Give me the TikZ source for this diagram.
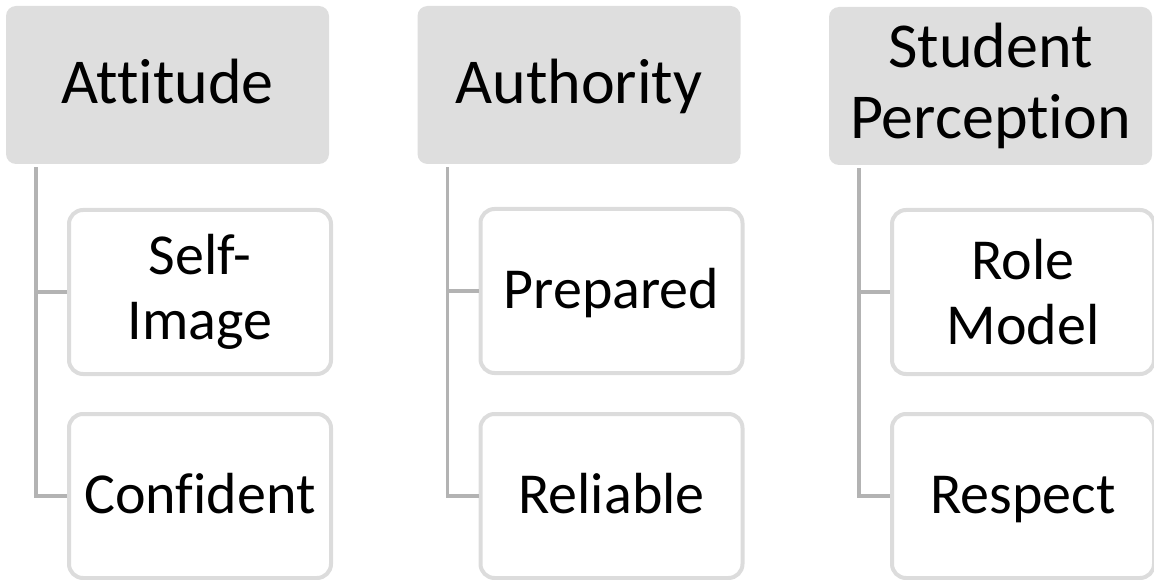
\documentclass[tikz,border=0pt]{standalone}
\usepackage{fontspec}
\setmainfont{Carlito}[Ligatures=NoCommon]
\usepackage{tikz}
\definecolor{headgray}{HTML}{DEDEDE}
\definecolor{boxgray}{HTML}{DCDCDC}
\definecolor{linkgray}{HTML}{B3B3B3}

\begin{document}
\begin{tikzpicture}[x=1pt,y=-1pt,
	head/.style={fill=headgray,rounded corners=10pt,minimum width=323pt,minimum height=158pt,
		align=center,font=\fontsize{64}{71}\selectfont,inner sep=0pt},
	item/.style={draw=boxgray,fill=white,line width=4pt,rounded corners=14pt,minimum width=262pt,
		minimum height=164pt,align=center,font=\fontsize{58}{65}\selectfont,inner sep=0pt},
	headline/.style={text height=46pt,text depth=9pt},
	itemline/.style={text height=42pt,text depth=8pt},
	link/.style={draw=linkgray,line width=3.5pt}
	]
	\useasboundingbox (0,0) rectangle (1154,580);
	% headers
	\node[head,headline] (attitude) at (167.5,85) {Attitude};
	\node[head,headline] (authority) at (579,85) {Authority};
	\node[head] (perception) at (990.5,86) {Student\\Perception};
	% items
	\node[item] (selfimage) at (200,292) {Self-\\Image};
	\node[item,itemline] (confident) at (200,496) {Confident};
	\node[item,itemline] (prepared) at (611.5,291) {Prepared};
	\node[item,itemline] (reliable) at (611.5,496) {Reliable};
	\node[item] (rolemodel) at (1023,292) {Role\\Model};
	\node[item,itemline] (respect) at (1023,496) {Respect};
	% links
	\draw[link] ([xshift=30pt,yshift=-3pt]attitude.south west) |- (selfimage.west);
	\draw[link] ([xshift=30pt,yshift=-3pt]attitude.south west) |- (confident.west);
	\draw[link] ([xshift=30pt,yshift=-3pt]authority.south west) |- (prepared.west);
	\draw[link] ([xshift=30pt,yshift=-3pt]authority.south west) |- (reliable.west);
	\draw[link] ([xshift=30pt,yshift=-3pt]perception.south west) |- (rolemodel.west);
	\draw[link] ([xshift=30pt,yshift=-3pt]perception.south west) |- (respect.west);
\end{tikzpicture}
\end{document}
